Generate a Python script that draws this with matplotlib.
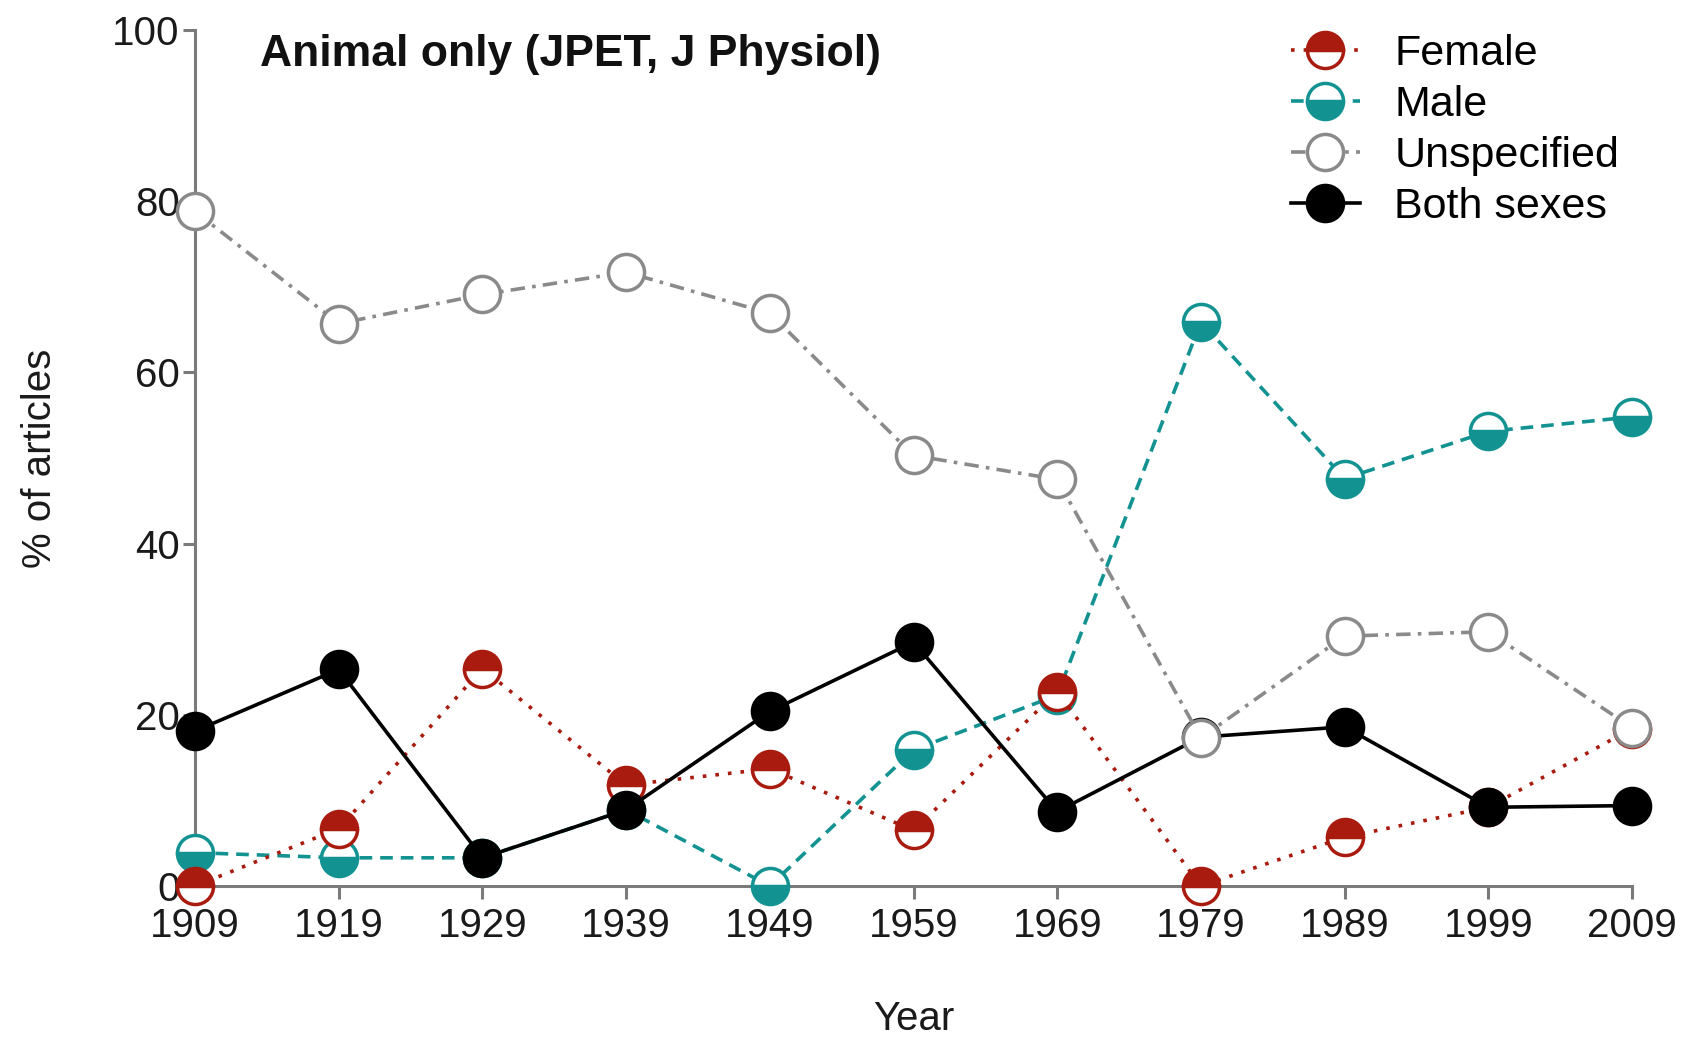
import matplotlib
matplotlib.use("Agg")
import matplotlib.pyplot as plt

plt.rcParams["font.family"] = ["Liberation Sans", "DejaVu Sans"]

years = [1909, 1919, 1929, 1939, 1949, 1959, 1969, 1979, 1989, 1999, 2009]

female = [0.0, 6.7, 25.4, 11.8, 13.7, 6.5, 22.7, 0.0, 5.7, 9.2, 18.4]
male = [3.9, 3.3, 3.3, 8.9, 0.0, 15.9, 22.3, 65.9, 47.6, 53.1, 54.8]
unspecified = [78.8, 65.7, 69.1, 71.7, 66.9, 50.3, 47.5, 17.3, 29.2, 29.7, 18.5]
both_sexes = [18.1, 25.3, 3.3, 8.9, 20.4, 28.5, 8.7, 17.4, 18.6, 9.2, 9.4]

red = "#a81b0e"
teal = "#139292"
grey = "#8a8a8a"
spine_col = "#7a7a7a"

fig = plt.figure(figsize=(16.9, 10.44), dpi=100)
ax = fig.add_axes([0.1154, 0.1513, 0.8503, 0.82])

ms = 26
mew = 2.5
lw = 2.6

ax.plot(years, male, color=teal, ls=(0, (3.5, 2.2)), lw=lw, marker="o", ms=ms,
        fillstyle="bottom", markerfacecolor=teal, markerfacecoloralt="white",
        markeredgecolor=teal, mew=mew, clip_on=False, zorder=3, label="Male")
ax.plot(years, female, color=red, ls=(0, (1, 2.5)), lw=lw, marker="o", ms=ms,
        fillstyle="top", markerfacecolor=red, markerfacecoloralt="white",
        markeredgecolor=red, mew=mew, clip_on=False, zorder=4, label="Female")
ax.plot(years, both_sexes, color="black", ls="-", lw=lw, marker="o", ms=ms,
        markerfacecolor="black", markeredgecolor="black", mew=mew,
        clip_on=False, zorder=5, label="Both sexes")
ax.plot(years, unspecified, color=grey, ls=(0, (4, 2, 1, 2)), lw=lw, marker="o", ms=ms,
        markerfacecolor="white", markeredgecolor=grey, mew=mew,
        clip_on=False, zorder=6, label="Unspecified")

ax.set_xlim(years[0], years[-1])
ax.set_ylim(0, 100)
ax.set_xticks(years)
ax.set_yticks([0, 20, 40, 60, 80, 100])

for side in ["top", "right"]:
    ax.spines[side].set_visible(False)
for side in ["left", "bottom"]:
    ax.spines[side].set_color(spine_col)
    ax.spines[side].set_linewidth(2.2)

ax.tick_params(axis="both", colors=spine_col, width=2.2, length=9, labelsize=29,
               labelcolor="#1a1a1a")
ax.tick_params(axis="y", pad=2)
ax.tick_params(axis="x", pad=6)

ax.set_xlabel("Year", fontsize=29, color="#1a1a1a", labelpad=40)
ax.set_ylabel("% of articles", fontsize=29, color="#1a1a1a", labelpad=38)

ax.text(0.045, 0.995, "Animal only (JPET, J Physiol)", transform=ax.transAxes,
        fontsize=32, fontweight="bold", va="top", ha="left", color="#111111")

handles, labels = ax.get_legend_handles_labels()
order = [labels.index(n) for n in ["Female", "Male", "Unspecified", "Both sexes"]]
leg = ax.legend([handles[i] for i in order], [labels[i] for i in order],
                loc="upper right", bbox_to_anchor=(1.018, 1.04), frameon=False,
                fontsize=31, handlelength=1.6, handletextpad=0.8, labelspacing=0.25,
                markerscale=1.0)

fig.savefig("out.png", dpi=100)
